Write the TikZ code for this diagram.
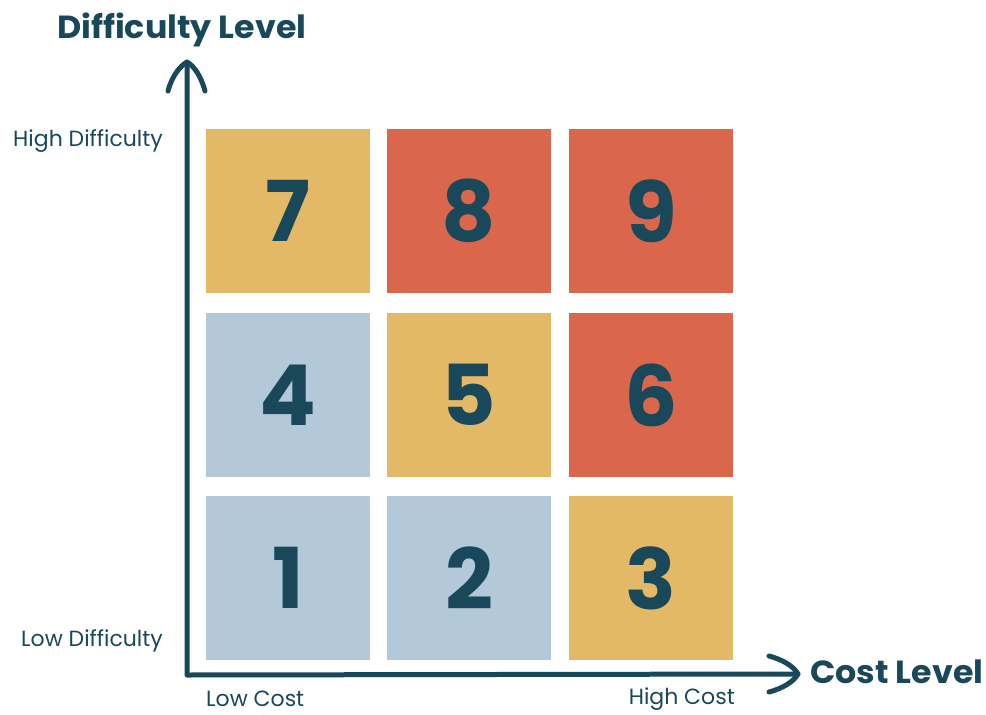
\documentclass[tikz,border=0pt]{standalone}
\usepackage{fontspec}
\setmainfont{Poppins}
\definecolor{ink}{RGB}{24,72,90}
\definecolor{cyel}{RGB}{227,185,104}
\definecolor{cred}{RGB}{218,103,76}
\definecolor{cblue}{RGB}{179,200,216}
\begin{document}
\begin{tikzpicture}[x=1pt,y=-1pt,
  cell/.style={minimum width=164pt,minimum height=164pt,inner sep=0pt,text=ink,
    font=\fontsize{84}{84}\selectfont\bfseries},
  axis/.style={draw=ink,line width=5pt,line cap=round,line join=round},
  lbl/.style={text=ink,font=\fontsize{22}{24}\selectfont,inner sep=0pt},
  ttl/.style={text=ink,font=\fontsize{32}{36}\selectfont\bfseries,inner sep=0pt,xscale=1.04}]
\useasboundingbox (0,0) rectangle (986,715);
% cells
\node[cell,fill=cyel]  (b7) at (288,211) {7};
\node[cell,fill=cred]  (b8) at (469,211) {8};
\node[cell,fill=cred]  (b9) at (651,211) {9};
\node[cell,fill=cblue] (b4) at (288,395) {4};
\node[cell,fill=cyel]  (b5) at (469,395) {5};
\node[cell,fill=cred]  (b6) at (651,395) {6};
\node[cell,fill=cblue] (b1) at (288,578) {1};
\node[cell,fill=cblue] (b2) at (469,578) {2};
\node[cell,fill=cyel]  (b3) at (651,578) {3};
% axes
\coordinate (o) at (187,675);
\coordinate (ytip) at (187,62);
\coordinate (xtip) at (798,674);
\draw[axis] (ytip) -- (o) -- (xtip);
\draw[axis] (168,91) .. controls (172,76) and (180,66) .. (ytip)
            .. controls (194,66) and (201,76) .. (205,91);
\draw[axis] (769,656) .. controls (784,660) and (794,667) .. (xtip)
            .. controls (794,681) and (784,688) .. (769,692);
% labels
\node[ttl,anchor=west] (yt) at (57,30) {Difficulty Level};
\node[ttl,anchor=west] (xt) at (810,672) {Cost Level};
\node[lbl,anchor=east] (hd) at (163,141) {High Difficulty};
\node[lbl,anchor=east] (ld) at (163,641) {Low Difficulty};
\node[lbl,anchor=west] (lc) at (206,699) {Low Cost};
\node[lbl,anchor=east] (hc) at (735,699) {High Cost};
\end{tikzpicture}
\end{document}
